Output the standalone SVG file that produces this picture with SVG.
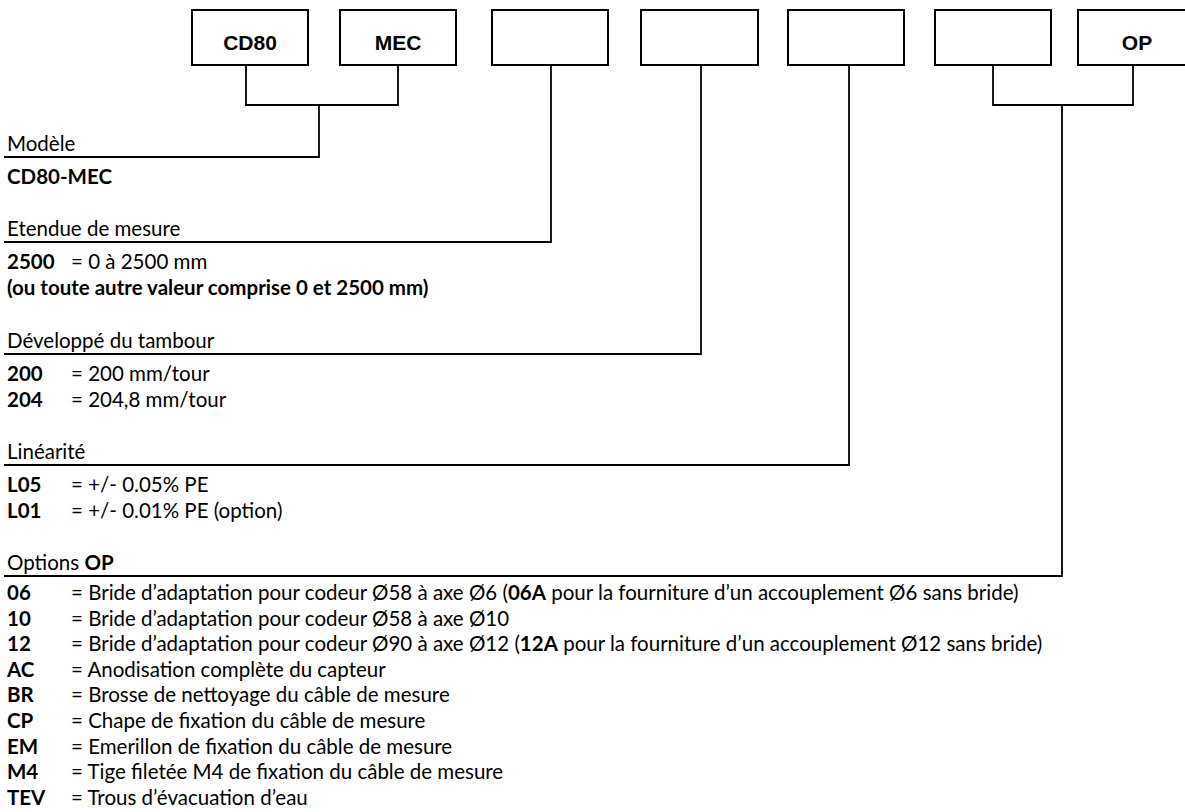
<svg xmlns="http://www.w3.org/2000/svg" width="1185" height="812" viewBox="0 0 1185 812">
<style>
.box{fill:#fff;stroke:#000;stroke-width:2}
.bt{font-family:"Liberation Sans",Arial,sans-serif;font-weight:bold;font-size:21px;text-anchor:middle;fill:#000}
.ln{fill:none;stroke:#000;stroke-width:1.8}
.t{font-family:Lato,"Open Sans","Liberation Sans",sans-serif;font-size:20.5px;fill:#000}
.b{font-weight:bold}
</style>
<rect width="1185" height="812" fill="#fff"/>
<g id="node-cd80"><rect class="box" x="192" y="10" width="116" height="55"/><text class="bt" x="250" y="50">CD80</text></g>
<g id="node-mec"><rect class="box" x="340" y="10" width="116" height="55"/><text class="bt" x="398" y="50">MEC</text></g>
<g id="node-etendue"><rect class="box" x="492" y="10" width="116" height="55"/></g>
<g id="node-developpe"><rect class="box" x="641" y="10" width="117" height="55"/></g>
<g id="node-linearite"><rect class="box" x="788" y="10" width="116" height="55"/></g>
<g id="node-options"><rect class="box" x="935" y="10" width="116" height="55"/></g>
<g id="node-op"><rect class="box" x="1078" y="10" width="120" height="55"/><text class="bt" x="1137" y="50">OP</text></g>
<g id="connectors">
<polyline class="ln" points="246,65 246,105 398,105 398,65"/>
<polyline class="ln" points="319,105 319,157 4,157"/>
<polyline class="ln" points="551,65 551,242 4,242"/>
<polyline class="ln" points="701,65 701,354 4,354"/>
<polyline class="ln" points="849,65 849,465 4,465"/>
<polyline class="ln" points="993,65 993,105 1133,105 1133,65"/>
<polyline class="ln" points="1062,105 1062,576 4,576"/>
</g>
<g id="texts">
<text class="t" x="7" y="151">Modèle</text>
<text class="t b" x="7" y="184">CD80-MEC</text>
<text class="t" x="7" y="236">Etendue de mesure</text>
<text class="t" x="7" y="269"><tspan class="b">2500</tspan><tspan x="71">= 0 à 2500 mm</tspan></text>
<text class="t b" x="7" y="295">(ou toute autre valeur comprise 0 et 2500 mm)</text>
<text class="t" x="7" y="348">Développé du tambour</text>
<text class="t" x="7" y="381"><tspan class="b">200</tspan><tspan x="71">= 200 mm/tour</tspan></text>
<text class="t" x="7" y="407"><tspan class="b">204</tspan><tspan x="71">= 204,8 mm/tour</tspan></text>
<text class="t" x="7" y="459">Linéarité</text>
<text class="t" x="7" y="492"><tspan class="b">L05</tspan><tspan x="71">= +/- 0.05% PE</tspan></text>
<text class="t" x="7" y="518"><tspan class="b">L01</tspan><tspan x="71">= +/- 0.01% PE (option)</tspan></text>
<text class="t" x="7" y="570">Options <tspan class="b">OP</tspan></text>
<text class="t" x="7" y="600"><tspan class="b">06</tspan><tspan x="71">= Bride d’adaptation pour codeur Ø58 à axe Ø6 (</tspan><tspan class="b">06A</tspan> pour la fourniture d’un accouplement Ø6 sans bride)</text>
<text class="t" x="7" y="625.6"><tspan class="b">10</tspan><tspan x="71">= Bride d’adaptation pour codeur Ø58 à axe Ø10</tspan></text>
<text class="t" x="7" y="651.2"><tspan class="b">12</tspan><tspan x="71">= Bride d’adaptation pour codeur Ø90 à axe Ø12 (</tspan><tspan class="b">12A</tspan> pour la fourniture d’un accouplement Ø12 sans bride)</text>
<text class="t" x="7" y="676.8"><tspan class="b">AC</tspan><tspan x="71">= Anodisation complète du capteur</tspan></text>
<text class="t" x="7" y="702.4"><tspan class="b">BR</tspan><tspan x="71">= Brosse de nettoyage du câble de mesure</tspan></text>
<text class="t" x="7" y="728"><tspan class="b">CP</tspan><tspan x="71">= Chape de fixation du câble de mesure</tspan></text>
<text class="t" x="7" y="753.6"><tspan class="b">EM</tspan><tspan x="71">= Emerillon de fixation du câble de mesure</tspan></text>
<text class="t" x="7" y="779.2"><tspan class="b">M4</tspan><tspan x="71">= Tige filetée M4 de fixation du câble de mesure</tspan></text>
<text class="t" x="7" y="804.8"><tspan class="b">TEV</tspan><tspan x="71">= Trous d’évacuation d’eau</tspan></text>
</g>
</svg>
